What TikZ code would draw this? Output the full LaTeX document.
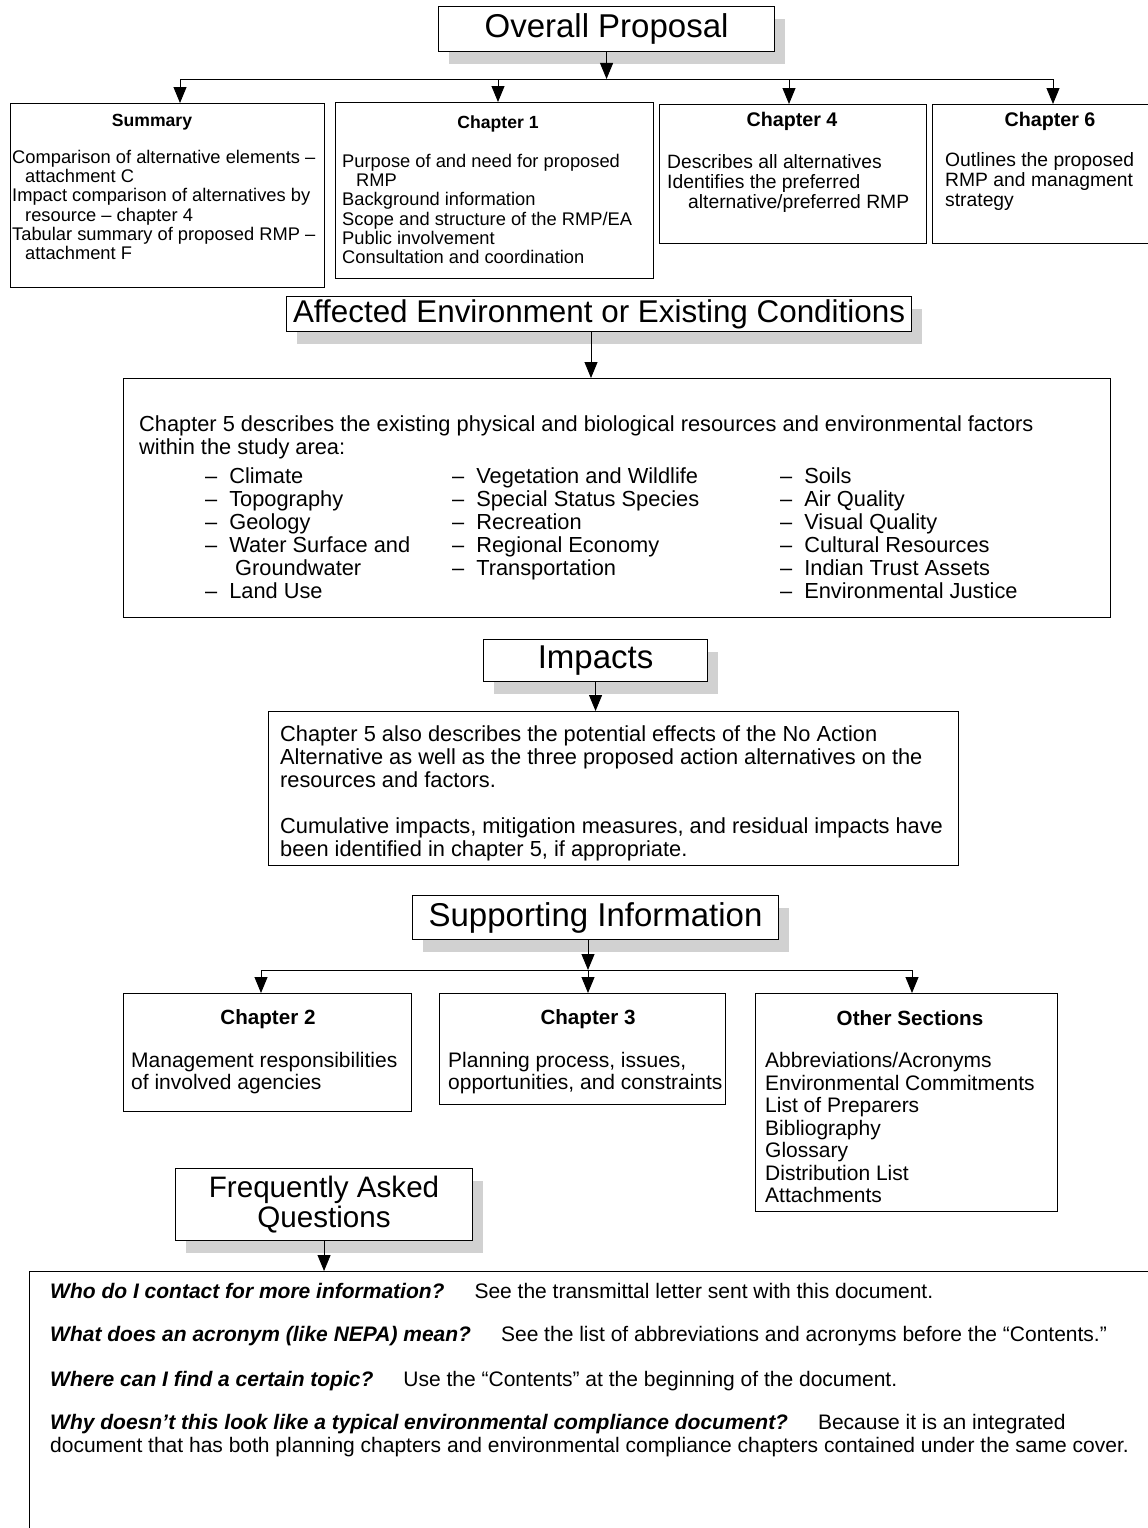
\documentclass[tikz,border=0pt]{standalone}
\usepackage{fontspec}
\setmainfont{Liberation Sans}
\usetikzlibrary{arrows.meta,shadows}

\tikzset{
  panel/.style={draw, line width=1.1pt, inner sep=0pt, anchor=north west},
  ttl/.style={panel, fill=white, font=\fontsize{33}{35}\selectfont,
    drop shadow={shadow xshift=10pt, shadow yshift=-12pt, fill=black!18, opacity=1}},
  arr/.style={-{Triangle[length=16pt,width=13pt]}, line width=0.9pt},
  hdsm/.style={anchor=base, inner sep=0pt, font=\bfseries\fontsize{17.6}{19}\selectfont},
  hdlg/.style={anchor=base, inner sep=0pt, font=\bfseries\fontsize{19.7}{21}\selectfont},
  hdlow/.style={anchor=base, inner sep=0pt, font=\bfseries\fontsize{20.6}{22}\selectfont},
  % base anchor of a multi-line text is the baseline of its last line
  txt/.style={anchor=base west, align=left, inner sep=0pt},
  smtxt/.style={txt, font=\fontsize{18.3}{19.2}\selectfont},
  mdtxt/.style={txt, font=\fontsize{19.3}{20.3}\selectfont},
  bigtxt/.style={txt, font=\fontsize{21.8}{23}\selectfont},
  lowtxt/.style={txt, font=\fontsize{21}{22.5}\selectfont},
}
\newcommand{\itm}{--\hspace{0.55em}}

\begin{document}
\begin{tikzpicture}[x=1pt,y=-1pt]
\useasboundingbox (0,0) rectangle (1148,1528);

% overall proposal and the four boxes below it
\node[ttl, minimum width=336pt, minimum height=45pt] (overall) at (438,6) {Overall Proposal};
\coordinate (topL) at (180,79);
\coordinate (top1) at (498,79);
\coordinate (top4) at (789,79);
\coordinate (topR) at (1053,79);
\draw[line width=0.9pt] (topL) -- (topR);
\draw[arr] (overall.south) -- (overall.south |- topL);

\node[panel, minimum width=314pt, minimum height=184pt] (summary) at (10,103) {};
\node[panel, minimum width=318pt, minimum height=176pt] (chap1) at (335,102) {};
\node[panel, minimum width=267pt, minimum height=139pt] (chap4) at (659,104) {};
\node[panel, minimum width=240pt, minimum height=139pt] (chap6) at (932,104) {};
\draw[arr] (topL) -- (topL |- summary.north);
\draw[arr] (top1) -- (top1 |- chap1.north);
\draw[arr] (top4) -- (top4 |- chap4.north);
\draw[arr] (topR) -- (topR |- chap6.north);

\node[hdsm] (sumhd) at (152,126) {Summary};
\node[smtxt] (sumtx) at (12,259.5) {Comparison of alternative elements --\\\hspace{13pt}attachment C\\Impact comparison of alternatives by\\\hspace{13pt}resource -- chapter 4\\Tabular summary of proposed RMP --\\\hspace{13pt}attachment F};
\node[hdsm] (ch1hd) at (498,128) {Chapter 1};
\node[smtxt] (ch1tx) at (342,263.5) {Purpose of and need for proposed\\\hspace{14pt}RMP\\Background information\\Scope and structure of the RMP/EA\\Public involvement\\Consultation and coordination};
\node[hdlg] (ch4hd) at (792,126) {Chapter 4};
\node[mdtxt] (ch4tx) at (667,208.6) {Describes all alternatives\\Identifies the preferred\\\hspace{21pt}alternative/preferred RMP};
\node[hdlg] (ch6hd) at (1050,126) {Chapter 6};
\node[mdtxt] (ch6tx) at (945,206.6) {Outlines the proposed\\RMP and managment\\strategy};

% affected environment
\node[ttl, font=\fontsize{31.4}{34}\selectfont, minimum width=625pt, minimum height=35pt] (affected) at (286,296) {Affected Environment or Existing Conditions};
\node[panel, minimum width=987pt, minimum height=239pt] (env) at (123,378) {};
\coordinate (envin) at (591,378);
\draw[arr] (affected.south -| envin) -- (envin);
\node[bigtxt] (envtx) at (139,454.5) {Chapter 5 describes the existing physical and biological resources and environmental factors\\within the study area:};
\node[bigtxt] (col1) at (205,598.5) {\itm Climate\\\itm Topography\\\itm Geology\\\itm Water Surface and\\\hspace{30pt}Groundwater\\\itm Land Use};
\node[bigtxt] (col2) at (452,575.5) {\itm Vegetation and Wildlife\\\itm Special Status Species\\\itm Recreation\\\itm Regional Economy\\\itm Transportation};
\node[bigtxt] (col3) at (780,598.5) {\itm Soils\\\itm Air Quality\\\itm Visual Quality\\\itm Cultural Resources\\\itm Indian Trust Assets\\\itm Environmental Justice};

% impacts
\node[ttl, minimum width=224pt, minimum height=42pt] (impacts) at (483,639) {Impacts};
\node[panel, minimum width=690pt, minimum height=154pt] (impbox) at (268,711) {};
\draw[arr] (impacts.south) -- (impacts.south |- impbox.north);
\node[bigtxt] (imptx) at (280,856.5) {Chapter 5 also describes the potential effects of the No Action\\Alternative as well as the three proposed action alternatives on the\\resources and factors.\\[23pt]Cumulative impacts, mitigation measures, and residual impacts have\\been identified in chapter 5, if appropriate.};

% supporting information
\node[ttl, minimum width=366pt, minimum height=44pt] (supinfo) at (412,895) {Supporting Information};
\coordinate (supL) at (261,970);
\coordinate (supM) at (588,970);
\coordinate (supR) at (912,970);
\draw[line width=0.9pt] (supL) -- (supR);
\draw[arr] (supinfo.south -| supM) -- (supM);

\node[panel, minimum width=288pt, minimum height=118pt] (chap2) at (123,993) {};
\node[panel, minimum width=286pt, minimum height=111pt] (chap3) at (439,993) {};
\node[panel, minimum width=302pt, minimum height=218pt] (other) at (755,993) {};
\draw[arr] (supL) -- (supL |- chap2.north);
\draw[arr] (supM) -- (supM |- chap3.north);
\draw[arr] (supR) -- (supR |- other.north);

\node[hdlow] (ch2hd) at (268,1024.5) {Chapter 2};
\node[lowtxt] (ch2tx) at (131,1089.5) {Management responsibilities\\of involved agencies};
\node[hdlow] (ch3hd) at (588,1024.5) {Chapter 3};
\node[lowtxt] (ch3tx) at (448,1089.5) {Planning process, issues,\\opportunities, and constraints};
\node[hdlow] (othhd) at (910,1025) {Other Sections};
\node[lowtxt] (othtx) at (765,1202.5) {Abbreviations/Acronyms\\Environmental Commitments\\List of Preparers\\Bibliography\\Glossary\\Distribution List\\Attachments};

% questions
\node[ttl, font=\fontsize{29.6}{30}\selectfont, align=center, minimum width=297pt, minimum height=72pt] (faq) at (175,1168) {Frequently Asked\\Questions};
\node[panel, minimum width=1150pt, minimum height=280pt] (faqbox) at (29,1271) {};
\draw[arr] (faq.south) -- (faq.south |- faqbox.north);

\node[lowtxt] (q1) at (50,1298.5) {\textbf{\textit{Who do I contact for more information?}}\hspace{30pt}See the transmittal letter sent with this document.};
\node[lowtxt] (q2) at (50,1341.5) {\textbf{\textit{What does an acronym (like NEPA) mean?}}\hspace{30pt}See the list of abbreviations and acronyms before the “Contents.”};
\node[lowtxt] (q3) at (50,1386.5) {\textbf{\textit{Where can I find a certain topic?}}\hspace{30pt}Use the “Contents” at the beginning of the document.};
\node[lowtxt] (q4) at (50,1452) {\textbf{\textit{Why doesn’t this look like a typical environmental compliance document?}}\hspace{30pt}Because it is an integrated\\document that has both planning chapters and environmental compliance chapters contained under the same cover.};
\end{tikzpicture}
\end{document}
